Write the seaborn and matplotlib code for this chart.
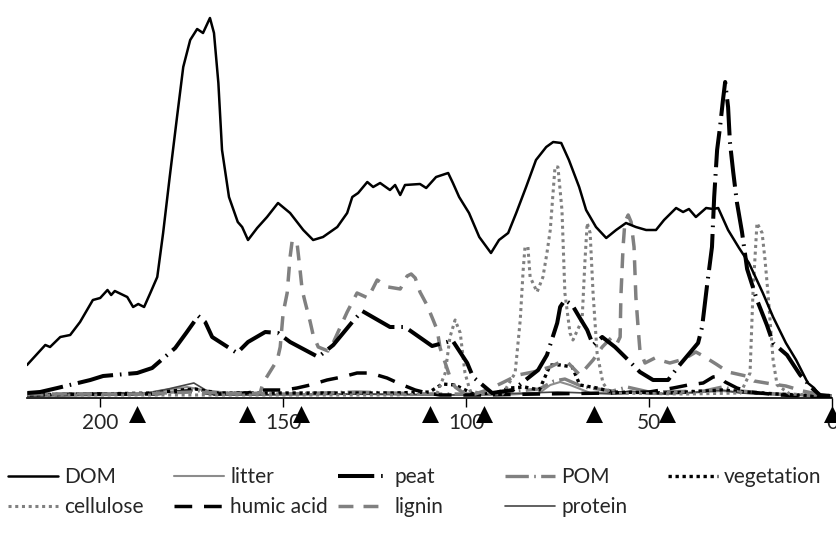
import numpy as np
import pandas as pd
import matplotlib
matplotlib.use('Agg')
import matplotlib.pyplot as plt
from matplotlib.transforms import blended_transform_factory
import seaborn as sns

# chemical shift (ppm) and intensity (a.u.)
dom_ppm = [220, 215, 213.7, 210.9, 208.2, 205.5, 202, 200, 198, 197, 196, 192.6, 191, 189.6, 188, 186.3,
           184.4, 182.8, 181, 179, 177.3, 175.4, 173.5, 171.9, 170, 168.9, 167.7, 166.7, 164.8, 162.4,
           161.2, 159.6, 157.1, 154.4, 151.4, 148.1, 144.5, 141.8, 139.1, 135.2, 132.5, 131.1, 129.5,
           127, 125.4, 123.5, 120.8, 119.4, 118, 116.7, 112.6, 110.9, 108.2, 104.9, 103.6, 101.9, 99.2,
           96.4, 93.2, 91, 88.5, 86.3, 83.6, 80.9, 78.1, 76.2, 74, 71.9, 69.1, 67.2, 64.5, 61.7, 59,
           56.3, 53.6, 50.8, 48.1, 45.9, 42.6, 40.7, 39.1, 37.2, 34.4, 32.5, 31.1, 28.4, 25.4, 22.7,
           18.9, 16.1, 12.6, 9.8, 6.6, 4.9, 3, 0.3]
dom_val = [32, 52, 50, 60, 62, 75, 97, 99, 107, 102, 106, 100, 90, 93, 90, 104, 120, 164, 220, 280,
           330, 357, 368, 364, 379, 364, 314, 247, 200, 175, 170, 157, 169, 180, 194, 184, 167, 157,
           160, 170, 184, 200, 204, 215, 210, 214, 207, 212, 202, 212, 213, 209, 220, 224, 214, 200,
           184, 160, 144, 157, 164, 184, 210, 237, 250, 255, 254, 237, 210, 187, 170, 159, 167, 174,
           170, 167, 167, 177, 189, 185, 188, 180, 189, 188, 189, 167, 149, 134, 104, 80, 54, 37, 14,
           9, 0, -1]

peat_ppm = [219.9, 216.4, 211.7, 202.7, 199.2, 189.9, 185.8, 179.5, 176.5, 173.2, 171.3, 169.4, 162.6,
            159.6, 154.9, 151.4, 148.1, 140.4, 136.3, 131.1, 128.4, 120.8, 116.7, 109.3, 105.2, 103.8,
            99.7, 98.1, 92.9, 87.2, 80.3, 77.9, 75.1, 74.3, 73, 71, 68.9, 66.9, 65.3, 62.8, 59.3, 55.7,
            52.5, 48.9, 44.8, 42.1, 36.6, 35.5, 34.2, 32.8, 32.2, 31.4, 30.6, 29.8, 29.2, 28.4, 27.9,
            27, 26, 24.6, 23.2, 20.5, 17.8, 16.1, 12.3, 8.7, 5.2, 3.3, 0.5]
peat_val = [4, 5, 9, 17, 21, 24, 29, 49, 64, 81, 75, 60, 44, 55, 65, 64, 55, 40, 52, 75, 86, 70, 70,
            51, 55, 57, 34, 20, 4, 7, 27, 42, 74, 90, 97, 92, 79, 67, 52, 60, 50, 37, 25, 17, 17, 30,
            54, 70, 110, 150, 200, 247, 270, 297, 315, 290, 255, 225, 195, 165, 128, 97, 72, 54, 42,
            22, 8, 2, 1]

humic_ppm = [220, 200, 185, 176, 168, 160, 158.2, 155.5, 149.5, 146.2, 142.6, 138, 133.9, 129.8,
             126.2, 121.6, 118, 113.9, 110.7, 107.1, 95, 80, 60, 50, 43.4, 39.3, 35.2, 32.5, 30.9,
             29.2, 26, 22.4, 14.2, 0]
humic_val = [2, 3, 3, 6, 3, 4, 5, 7, 7, 9, 12, 17, 20, 24, 24, 19, 13, 7, 4, 2, 2, 3, 4, 5, 9, 12,
             14, 20, 21, 15, 9, 5, 2, 0]

lignin_ppm = [220, 190, 175, 160, 156.3, 155.5, 151.6, 150.8, 150, 148.9, 148.1, 147.5, 146.2, 145.4,
              144.8, 144, 142.6, 141.8, 140.4, 137.7, 136.6, 132.5, 129.8, 126.8, 124.3, 121.3, 118,
              116.1, 115, 113.9, 112.6, 110.7, 109, 107.9, 107.1, 105.7, 104.4, 103, 101.1, 97.5,
              94.3, 90.2, 85.8, 81.7, 77, 74.3, 72.1, 68.9, 65.3, 62.8, 60.1, 58.7, 57.9, 57.7, 57.1,
              56.6, 55.7, 54.9, 54.1, 53.6, 53, 52.5, 51.1, 48.4, 46.2, 44.3, 40.4, 37.2, 35.2, 31.7,
              28.4, 23.5, 21.3, 16.4, 12.6, 8, 4, 0]
lignin_val = [3, 3, 5, 3, 4, 14, 37, 50, 84, 104, 140, 157, 154, 128, 107, 95, 75, 62, 50, 46, 52,
              85, 104, 99, 117, 110, 108, 121, 123, 119, 105, 92, 77, 67, 49, 34, 20, 10, 5, 3, 7,
              14, 22, 25, 30, 35, 34, 22, 37, 50, 60, 54, 60, 100, 150, 175, 182, 175, 150, 100, 70,
              47, 34, 39, 36, 34, 38, 45, 41, 33, 25, 21, 16, 13, 11, 6, 3, 1]

cellulose_ppm = [220, 180, 150, 120, 108, 105.7, 104.4, 103, 101.6, 100.3, 98.9, 95, 90, 86.6, 85.2,
                 84.4, 83.9, 83.1, 82.5, 80.6, 79, 77.9, 77, 75.7, 74.9, 73.8, 73, 71.6, 70.8, 68.3,
                 67.5, 66.9, 66.1, 65.3, 64.2, 62.6, 60.7, 40, 25, 22.4, 21.6, 20.5, 19.1, 18.3,
                 17.5, 16.1, 15, 11.5, 0]
cellulose_val = [2, 2, 2, 2, 3, 24, 60, 77, 64, 24, 6, 3, 3, 24, 77, 127, 150, 150, 120, 105, 120,
                 144, 167, 230, 230, 187, 104, 64, 57, 77, 137, 174, 164, 104, 44, 14, 4, 3, 4, 24,
                 104, 174, 164, 137, 104, 37, 12, 3, 1]

veg_ppm = [220, 185, 178, 174, 168, 160, 140, 120, 110, 106.5, 103, 98, 92, 88, 84, 80, 77, 74.3, 71,
           68.9, 64.2, 60, 45, 30, 20, 10, 0]
veg_val = [2, 4, 7, 8, 4, 4, 4, 4, 5, 13, 12, 3, 4, 9, 10, 7, 32, 32, 30, 12, 9, 5, 4, 7, 4, 2, 1]

litter_ppm = [220, 190, 182.8, 176.2, 171.9, 160, 130, 110, 90, 80, 77, 74.3, 71.6, 66, 56, 45, 30,
              20, 0]
litter_val = [2, 2, 7, 10, 7, 2, 3, 2, 2, 4, 12, 15, 12, 4, 5, 3, 6, 3, 1]

pom_ppm = [220, 190, 180, 175, 168, 150, 130, 110, 95, 80, 76, 73, 68, 60, 56, 50, 35, 30, 25, 15, 0]
pom_val = [3, 3, 5, 7, 4, 3, 5, 3, 3, 8, 16, 18, 10, 6, 10, 5, 6, 10, 6, 3, 1]

protein_ppm = [220, 190, 182.6, 174.4, 168.9, 160, 130, 100, 75, 60, 55, 50, 40, 30, 25, 20, 10, 0]
protein_val = [1, 2, 7, 14, 2, 2, 3, 2, 5, 3, 6, 3, 4, 7, 4, 3, 2, 0]

marker_ppm = [190, 160, 145, 110, 95, 65, 45, 0]
tick_ppm = [200, 150, 100, 50, 0]

# name -> (ppm, values, colour, width, linestyle)
series = {
    'litter': (litter_ppm, litter_val, '#8c8c8c', 1.5, '-'),
    'protein': (protein_ppm, protein_val, '#454545', 1.2, '-'),
    'POM': (pom_ppm, pom_val, '#808080', 2.4, (0, (7, 1.6, 0.5, 1.6))),
    'vegetation': (veg_ppm, veg_val, 'black', 2.4, (0, (1, 1.1))),
    'humic acid': (humic_ppm, humic_val, 'black', 2.5, (0, (5.1, 3.4))),
    'cellulose': (cellulose_ppm, cellulose_val, '#808080', 2.2, (0, (1, 1.2))),
    'lignin': (lignin_ppm, lignin_val, '#808080', 2.5, (0, (4.3, 2.9))),
    'peat': (peat_ppm, peat_val, 'black', 2.9, (0, (9, 1.7, 0.4, 1.7))),
    'DOM': (dom_ppm, dom_val, 'black', 1.8, '-'),
}

sns.set_style('white')
plt.rcParams['font.family'] = ['Lato', 'DejaVu Sans']

fig = plt.figure(figsize=(8.36, 5.36), dpi=100)
ax = fig.add_axes([27 / 836, 138 / 536, 805 / 836, 388 / 536])

for name, (ppm, val, col, lw, ls) in series.items():
    df = pd.DataFrame({'ppm': ppm, 'intensity': val})
    sns.lineplot(data=df, x='ppm', y='intensity', ax=ax, color=col, linewidth=lw,
                 linestyle=ls, label=name, legend=False, estimator=None, sort=False)

ax.set_xlim(220, 0)
ax.set_ylim(-1, 387)
ax.set_xlabel('')
ax.set_ylabel('')
ax.set_yticks([])
for side in ['left', 'right', 'top']:
    ax.spines[side].set_visible(False)
ax.spines['bottom'].set_color('black')
ax.spines['bottom'].set_linewidth(1.2)
ax.set_xticks(tick_ppm)
ax.set_xticklabels([str(t) for t in tick_ppm])
ax.tick_params(axis='x', direction='out', length=6.5, width=1, color='black',
               labelsize=15, pad=4, bottom=True)

# region markers under the axis
trans = blended_transform_factory(ax.transData, ax.transAxes)
ax.scatter(marker_ppm, [-0.04] * len(marker_ppm), marker='^', s=150, color='black',
           transform=trans, clip_on=False, zorder=5, linewidths=0)

handles, labels = ax.get_legend_handles_labels()
lookup = dict(zip(labels, handles))
columns = [['DOM', 'cellulose'], ['litter', 'humic acid'], ['peat', 'lignin'],
           ['POM', 'protein'], ['vegetation']]
col_x = [8, 174, 338, 505, 668]
for names, x in zip(columns, col_x):
    fig.legend([lookup[n] for n in names], names, loc='upper left',
               bbox_to_anchor=(x / 836, 1 - 467 / 536), frameon=False, fontsize=15,
               handlelength=2.4, handletextpad=0.3, labelspacing=0.5, borderpad=0,
               borderaxespad=0)

fig.savefig('out.png', dpi=100, facecolor='white')
